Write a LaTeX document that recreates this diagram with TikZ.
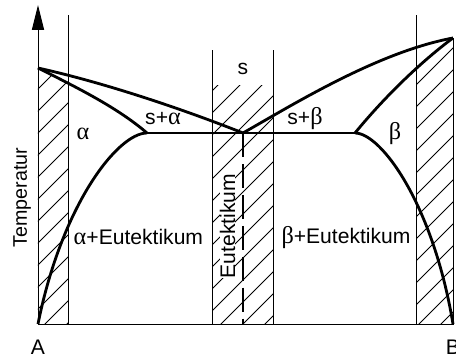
\documentclass[tikz,border=0pt]{standalone}
\usepackage{fontspec}
\setmainfont{Liberation Sans}
\newfontfamily\greekfont[Scale=1.15]{Liberation Serif}
\usetikzlibrary{arrows.meta}

\newcommand{\gr}[1]{{\greekfont #1}}
\newcommand{\hatchlines}{%
  \foreach \c in {-10.625,-10.075,...,8.1}
    \draw[hatchline] (-1,\c-1) -- (11,\c+11);}

\tikzset{
  phaseline/.style={line width=2pt},
  thinline/.style={line width=0.7pt},
  hatchline/.style={line width=0.6pt},
  lbl/.style={font=\fontsize{15}{18}\selectfont, inner sep=0pt, anchor=base},
}

\begin{document}
\begin{tikzpicture}
    \useasboundingbox (-0.95,-0.85) rectangle (10.45,8.1);

    % Key points of the diagram
    \coordinate (A) at (0,0);
    \coordinate (B) at (10.375,0);
    \coordinate (TA) at (0,6.4);
    \coordinate (TB) at (10.375,7.15);
    \coordinate (E) at (5.125,4.775);
    \coordinate (Ea) at (2.725,4.775);
    \coordinate (Eb) at (7.925,4.775);

    % Hatched strips
    \begin{scope}
        \clip (A) -- (TA) -- (0.75,6.02) -- (0.75,0) -- cycle;
        \hatchlines
    \end{scope}
    \begin{scope}
        \clip (4.35,0) rectangle (5.875,5.95);
        \hatchlines
    \end{scope}
    \begin{scope}
        \clip (9.45,0) -- (9.45,6.425) -- (TB) -- (B) -- cycle;
        \hatchlines
    \end{scope}

    % Axes and strip borders
    \draw[thinline,-{Triangle[length=6.2mm,width=3mm]}] (A) -- (0,7.975);
    \draw[thinline] (A) -- (B) -- (TB);
    \draw[thinline] (0.75,0) -- (0.75,7.725);
    \draw[thinline] (9.45,0) -- (9.45,7.725);
    \draw[thinline] (4.35,0) -- (4.35,6.85);
    \draw[thinline] (5.875,0) -- (5.875,6.85);

    % Left side: liquidus, solidus, solvus
    \draw[phaseline] (TA) .. controls (1.8,6.0) and (3.8,5.3) .. (E);
    \draw[phaseline] (TA) .. controls (1,5.9) and (2,5.4) .. (Ea);
    \draw[phaseline] (Ea) .. controls (2.0,4.775) and (0.6,3.0) .. (A);

    % Eutectic line
    \draw[phaseline] (Ea) -- (Eb);
    \draw[phaseline,dash pattern=on 17pt off 5pt] (E) -- (5.125,0);

    % Right side: liquidus, solidus, solvus
    \draw[phaseline] (E) .. controls (6.4,5.5) and (8.5,6.8) .. (TB);
    \draw[phaseline] (TB) .. controls (9.5,6.5) and (8.6,5.6) .. (Eb);
    \draw[phaseline] (Eb) .. controls (8.575,4.775) and (9.875,3.0) .. (B);

    % Labels
    \node[lbl] (alpha) at (1.125,4.6) {\gr{α}};
    \node[lbl] (salpha) at (3.125,4.975) {s+\gr{α}};
    \node[lbl] (s) at (5.125,6.225) {s};
    \node[lbl] (sbeta) at (6.675,4.975) {s+\gr{β}};
    \node[lbl] (beta) at (8.925,4.6) {\gr{β}};
    \node[lbl] (alphaeut) at (2.51,1.975) {\gr{α}+Eutektikum};
    \node[lbl] (betaeut) at (7.7,2.0) {\gr{β}+Eutektikum};
    \node[lbl,rotate=90,fill=white] (eut) at (4.925,2.45) {Eutektikum};
    \node[lbl,rotate=90,font=\fontsize{14}{17}\selectfont] (temp) at (-0.275,3.16) {Temperatur};
    \node[lbl] (labA) at (0,-0.775) {A};
    \node[lbl] (labB) at (10.375,-0.775) {B};
\end{tikzpicture}
\end{document}
